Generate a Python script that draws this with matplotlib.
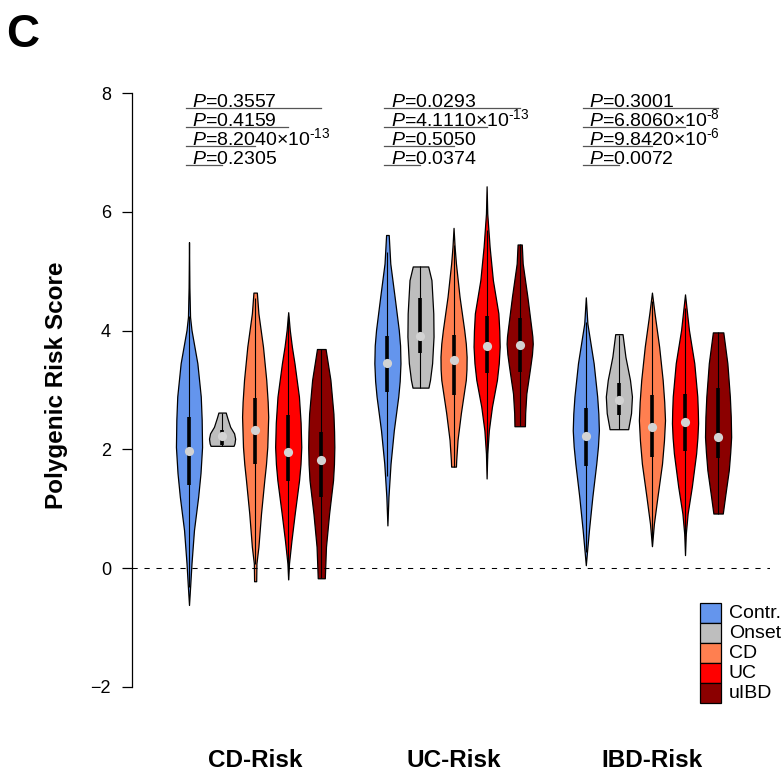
import matplotlib
matplotlib.use("Agg")
import matplotlib.pyplot as plt
import numpy as np
from matplotlib.patches import Rectangle

plt.rcParams["font.family"] = ["Liberation Sans", "DejaVu Sans"]
plt.rcParams["mathtext.fontset"] = "custom"
plt.rcParams["mathtext.rm"] = "Liberation Sans"
plt.rcParams["mathtext.it"] = "Liberation Sans:italic"

W, H = 782, 771

classes = ["Contr.", "Onset", "CD", "UC", "uIBD"]
colors = ["#6495ED", "#BEBEBE", "#FF7F50", "#FF0000", "#8B0000"]
groups = ["CD-Risk", "UC-Risk", "IBD-Risk"]

# violin outlines: (score, relative half-width)
cd_contr = [(5.49, 0.0), (4.73, 0.03), (4.23, 0.08), (4.01, 0.19), (3.45, 0.64), (2.89, 0.9),
            (2.5, 0.97), (2.04, 1.0), (1.6, 0.88), (1.20, 0.7), (0.64, 0.38), (0.08, 0.19),
            (-0.26, 0.1), (-0.62, 0.0)]
cd_onset = [(2.62, 0.28), (2.53, 0.40), (2.38, 0.62), (2.27, 0.92), (2.18, 1.0), (2.10, 0.95),
            (2.06, 0.88)]
cd_cd = [(4.64, 0.13), (4.29, 0.25), (3.73, 0.6), (3.17, 0.85), (2.8, 0.96), (2.55, 1.0),
         (2.04, 0.93), (1.75, 0.83), (1.48, 0.7), (0.92, 0.45), (0.36, 0.25), (0.08, 0.1),
         (-0.22, 0.08)]
cd_uc = [(4.31, 0.0), (4.01, 0.12), (3.73, 0.28), (3.45, 0.48), (2.89, 0.82), (2.45, 0.95),
         (2.04, 1.0), (1.75, 0.94), (1.48, 0.83), (0.92, 0.5), (0.47, 0.25), (0.08, 0.06),
         (-0.19, 0.0)]
cd_uibd = [(3.69, 0.33), (3.45, 0.5), (3.17, 0.7), (2.60, 0.93), (2.3, 0.98), (2.04, 1.0),
           (1.75, 0.97), (1.48, 0.9), (0.92, 0.6), (0.36, 0.36), (-0.17, 0.27)]

uc_contr = [(5.61, 0.1), (5.13, 0.22), (4.57, 0.55), (4.01, 0.87), (3.75, 0.97), (3.45, 1.0),
            (3.15, 0.94), (2.89, 0.83), (2.32, 0.49), (1.76, 0.24), (1.20, 0.08), (0.72, 0.0)]
uc_onset = [(5.08, 0.59), (4.85, 0.84), (4.29, 0.98), (3.90, 1.0), (3.45, 0.89), (3.17, 0.73),
            (3.04, 0.61)]
uc_cd = [(5.73, 0.0), (5.41, 0.08), (5.13, 0.18), (4.57, 0.45), (4.01, 0.8), (3.78, 0.92),
         (3.56, 0.98), (3.35, 0.97), (3.17, 0.92), (2.61, 0.55), (2.16, 0.3), (1.82, 0.2),
         (1.71, 0.18)]
uc_uc = [(6.43, 0.0), (5.97, 0.05), (5.41, 0.23), (4.85, 0.48), (4.29, 0.9), (4.0, 0.97),
         (3.73, 1.0), (3.45, 0.93), (3.17, 0.79), (2.72, 0.41), (2.32, 0.17), (1.93, 0.05),
         (1.51, 0.0)]
uc_uibd = [(5.45, 0.16), (5.13, 0.23), (4.57, 0.59), (4.01, 0.91), (3.9, 0.97), (3.78, 1.0),
           (3.6, 0.94), (3.39, 0.81), (2.94, 0.51), (2.61, 0.42), (2.39, 0.4)]

ibd_contr = [(4.56, 0.0), (4.12, 0.12), (3.45, 0.6), (2.89, 0.87), (2.6, 0.96), (2.32, 1.0),
             (2.05, 0.93), (1.76, 0.8), (1.20, 0.5), (0.64, 0.24), (0.30, 0.1), (0.05, 0.0)]
ibd_onset = [(3.94, 0.28), (3.56, 0.5), (3.17, 0.85), (2.89, 1.0), (2.61, 0.93), (2.34, 0.71)]
ibd_cd = [(4.64, 0.0), (4.29, 0.2), (3.73, 0.55), (3.17, 0.82), (2.8, 0.94), (2.49, 1.0),
          (2.15, 0.92), (1.76, 0.77), (1.20, 0.42), (0.75, 0.15), (0.37, 0.0)]
ibd_uc = [(4.61, 0.0), (4.01, 0.3), (3.45, 0.71), (2.89, 0.94), (2.65, 0.98), (2.44, 1.0),
          (2.2, 0.95), (1.93, 0.85), (1.37, 0.52), (0.92, 0.2), (0.58, 0.06), (0.22, 0.0)]
ibd_uibd = [(3.97, 0.4), (3.45, 0.71), (2.89, 0.9), (2.55, 0.97), (2.21, 1.0), (1.95, 0.93),
            (1.65, 0.82), (1.26, 0.57), (0.92, 0.36)]

# quartiles per class
cd_q1 = [1.40, 2.08, 1.75, 1.47, 1.20]
cd_med = [1.97, 2.22, 2.32, 1.95, 1.82]
cd_q3 = [2.54, 2.32, 2.87, 2.58, 2.30]
uc_q1 = [2.97, 3.62, 2.91, 3.29, 3.31]
uc_med = [3.46, 3.91, 3.50, 3.74, 3.76]
uc_q3 = [3.91, 4.55, 3.92, 4.25, 4.22]
ibd_q1 = [1.72, 2.58, 1.87, 1.98, 1.85]
ibd_med = [2.23, 2.83, 2.38, 2.46, 2.21]
ibd_q3 = [2.69, 3.12, 2.92, 2.94, 3.04]

# Contr. vs uIBD, UC, CD, Onset
cd_p = ["0.3557", "0.4159", "8.2040e-13", "0.2305"]
uc_p = ["0.0293", "4.1110e-13", "0.5050", "0.0374"]
ibd_p = ["0.3001", "6.8060e-8", "9.8420e-6", "0.0072"]

profiles = [[cd_contr, cd_onset, cd_cd, cd_uc, cd_uibd],
            [uc_contr, uc_onset, uc_cd, uc_uc, uc_uibd],
            [ibd_contr, ibd_onset, ibd_cd, ibd_uc, ibd_uibd]]
q1s = [cd_q1, uc_q1, ibd_q1]
meds = [cd_med, uc_med, ibd_med]
q3s = [cd_q3, uc_q3, ibd_q3]
pvals = [cd_p, uc_p, ibd_p]

fig = plt.figure(figsize=(W / 100, H / 100), dpi=100)
# axes box in pixels
left, right, top, bottom = 132, 770, 69.3, 710.7
ax = fig.add_axes([left / W, 1 - bottom / H, (right - left) / W, (bottom - top) / H])
ax.set_xlim(-0.724, 18.57)
ax.set_ylim(-2.4, 8.4)

for g in range(3):
    base = 1 + 6 * g
    pos = [base + k for k in range(5)]
    stats = []
    for k in range(5):
        prof = np.array(profiles[g][k])
        stats.append(dict(coords=prof[::-1, 0], vals=prof[::-1, 1], mean=meds[g][k],
                          median=meds[g][k], min=prof[:, 0].min(), max=prof[:, 0].max()))
    parts = ax.violin(stats, positions=pos, widths=0.79, showextrema=False)
    for body, c in zip(parts["bodies"], colors):
        body.set_facecolor(c)
        body.set_edgecolor("black")
        body.set_linewidth(0.9)
        body.set_alpha(1)
    for k in range(5):
        prof = np.array(profiles[g][k])
        q1, q3 = q1s[g][k], q3s[g][k]
        iqr = q3 - q1
        lo = max(q1 - 1.5 * iqr, prof[:, 0].min())
        hi = min(q3 + 1.5 * iqr, prof[:, 0].max())
        ax.vlines(pos[k], lo, hi, color="black", lw=0.8, zorder=3)
        ax.vlines(pos[k], q1, q3, color="black", lw=2.6, zorder=3)
        ax.plot(pos[k], meds[g][k], "o", color="#D3D3D3", ms=6.6, mec="none", zorder=4)

    # p-value annotations
    for i, p in enumerate(pvals[g]):
        y = 7.75 - 0.32 * i
        if "e" in p:
            m, e = p.split("e")
            label = r"$\mathit{P}$=" + m + "×10$^{" + e.replace("-", "\u2010") + "}$"
        else:
            label = r"$\mathit{P}$=" + p
        ax.text(base + 0.1, y + 0.02, label, fontsize=14, ha="left", va="baseline")
        ax.plot([base - 0.1, base + 4 - i], [y, y], color="#555555", lw=0.9)

    ax.text(base + 2, -3.35, groups[g], fontsize=17.5, fontweight="bold",
            ha="center", va="baseline", clip_on=False)

ax.axhline(0, color="black", lw=0.75, ls=(0, (5, 6.5)), zorder=1)

for s in ["top", "right", "bottom"]:
    ax.spines[s].set_visible(False)
ax.spines["left"].set_bounds(-2, 8)
ax.spines["left"].set_linewidth(0.9)
ax.set_xticks([])
ax.set_yticks([-2, 0, 2, 4, 6, 8])
ax.set_yticklabels(["−2", "0", "2", "4", "6", "8"])
ax.tick_params(axis="y", length=7.2, width=0.9, pad=8, labelsize=13)

fig.text(57 / W, 1 - 385 / H, "Polygenic Risk Score", rotation=90, fontsize=17.5,
         fontweight="bold", ha="center", va="center")
fig.text(6 / W, 1 - 47 / H, "C", fontsize=33, fontweight="bold", ha="left", va="baseline")

# legend
for k, (lab, c) in enumerate(zip(classes, colors)):
    y0 = 603 + 20 * k
    fig.add_artist(Rectangle((700 / W, 1 - (y0 + 20) / H), 21 / W, 20 / H, facecolor=c,
                             edgecolor="black", lw=0.9, transform=fig.transFigure))
    fig.text(729 / W, 1 - (y0 + 10) / H, lab, fontsize=14, ha="left", va="center")

fig.savefig("out.png", dpi=100)
